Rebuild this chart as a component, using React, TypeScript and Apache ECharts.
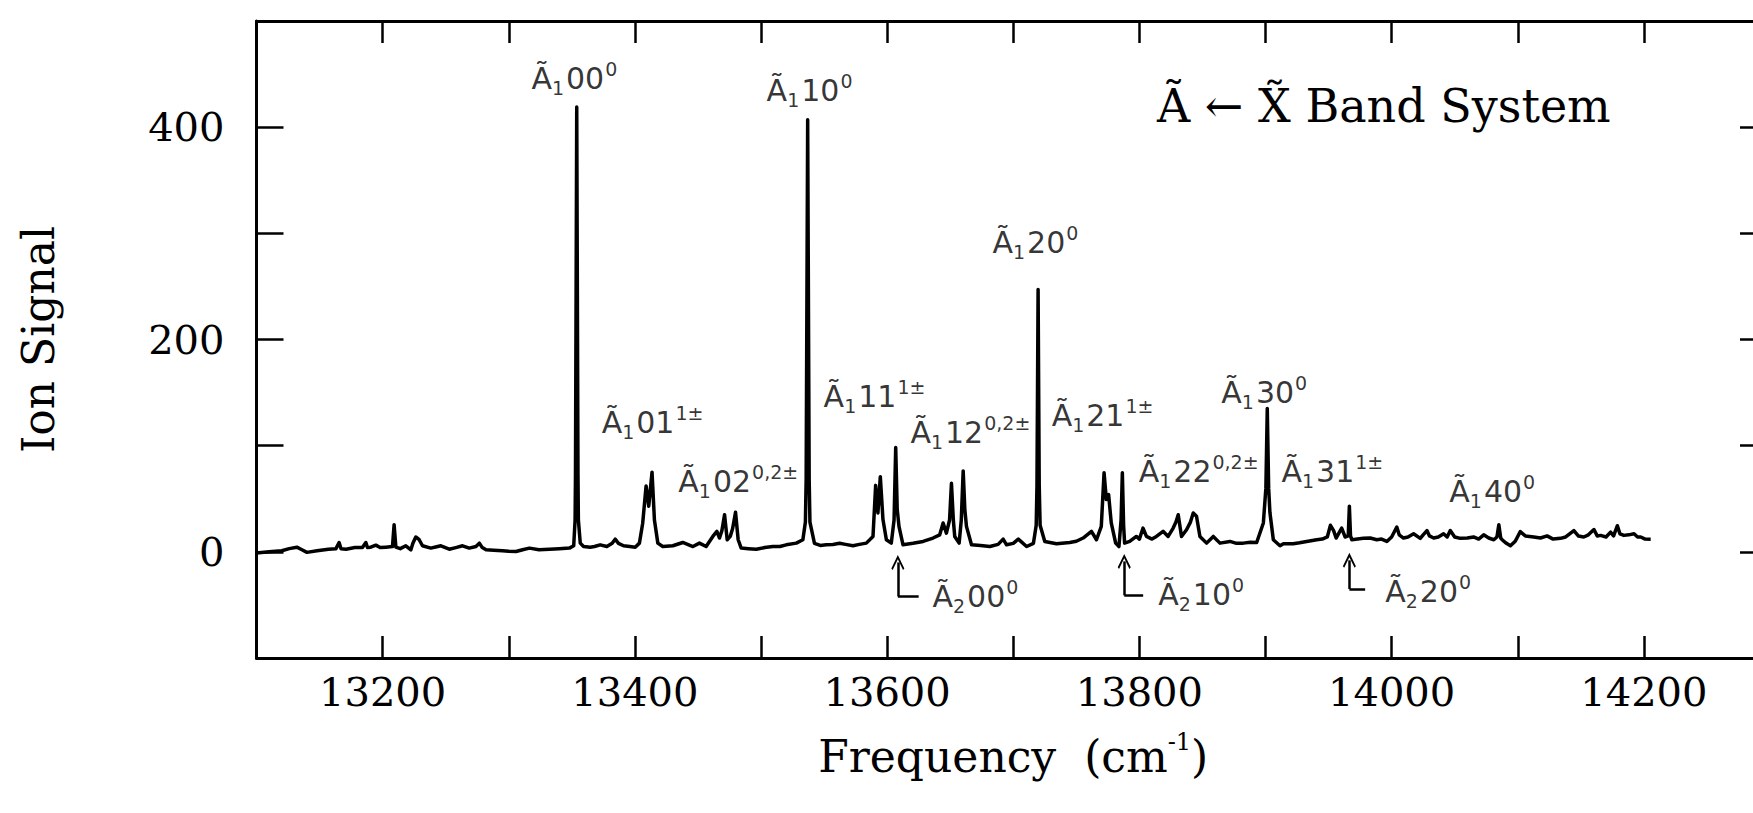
import React, { useEffect, useRef } from "react";
import * as echarts from "echarts";

// ---- spectrum (frequency cm^-1, ion signal) ----
const spectrumA: [number, number][] = [
  [13100, -1], [13110, 0], [13120, 1], [13126, 3], [13132, 4.4], [13136, 2], [13140, -0.5], [13148, 1],
  [13157, 2.5], [13163, 3], [13165.5, 8.8], [13167, 3], [13171, 2.5], [13178, 4], [13184, 4], [13186.7, 8.8],
  [13188, 4], [13190.6, 4.4], [13194.6, 6.3], [13198, 4], [13202.5, 4.4], [13207.8, 5], [13209.1, 25.6],
  [13210.5, 4.4], [13214, 3], [13218.4, 5.7], [13222.4, 1.9], [13224, 8], [13226.3, 14], [13229, 11.4],
  [13231.6, 5.7], [13238.2, 3.5], [13242, 4.5], [13246.2, 5.7], [13252.8, 2.5], [13258, 4], [13263.4, 5.7],
  [13268.7, 3.5], [13274, 5], [13276.7, 8.2], [13279, 4], [13282, 1.9], [13288, 1.5], [13295, 1], [13300, 0.5],
  [13305.8, 0.3], [13311, 2], [13316.4, 3.5], [13324, 2], [13332.3, 2.5], [13340, 3], [13348.1, 3.5], [13351.5, 5.7],
];
const spectrumB: [number, number][] = [
  [13352.6, 30], [13352.9, 71], [13353.9, 419], [13354.9, 71], [13355.2, 30], [13356.7, 8.2], [13359.3, 5],
  [13364.6, 4.4], [13368, 5], [13372.5, 6.6], [13377.8, 5], [13382, 8], [13384.4, 11.9], [13387, 8], [13391, 5.7],
  [13396, 5], [13400.3, 4.4], [13403.6, 8.2], [13406.2, 27], [13408.9, 62], [13411, 43], [13413.6, 75],
  [13415.5, 30], [13418.2, 8.2], [13422.1, 5], [13430.1, 5.7], [13438, 8.8], [13446, 5], [13451.2, 8.2],
  [13456.5, 5], [13461.8, 14.5], [13465, 19.3], [13467.1, 13], [13469, 20], [13471.1, 35], [13473.2, 11.4],
  [13475.6, 14.5], [13477.5, 22], [13479.8, 37.3], [13481.9, 11.4], [13484.3, 3.5], [13490, 3], [13496.2, 2.5],
  [13503, 4], [13509.4, 5], [13515, 5], [13520, 6.6], [13528, 8.2], [13533.2, 11.4], [13535.2, 28], [13535.8, 68],
  [13537, 407], [13538.2, 68], [13538.8, 28], [13542.4, 8],
];
const spectrumC: [number, number][] = [
  [13547, 6], [13551.7, 6.6], [13557, 7], [13562.3, 8], [13567, 7], [13572.9, 5.7], [13578, 7], [13583.5, 8.2],
  [13588.8, 14.5], [13590.9, 62.6], [13592.7, 36.6], [13594.6, 70.8], [13596.7, 30.4], [13599.4, 11.4],
  [13603.3, 8.2], [13605.5, 30], [13606.8, 98.3], [13608, 40], [13609.4, 24], [13612.6, 6.6], [13620.5, 8],
  [13628.5, 9.8], [13636.4, 13], [13641.7, 16], [13644.4, 27.2], [13647, 17.6], [13649.5, 30], [13651, 64.5],
  [13652.5, 30], [13653.6, 14.5], [13657.1, 8.2], [13658.8, 30], [13660.3, 76.2], [13661.6, 40], [13662.9, 24],
  [13666.9, 6.6], [13674, 6], [13681.5, 5], [13688, 7], [13692, 12], [13694.7, 6.6], [13700, 8], [13704, 12],
  [13710.6, 5], [13716, 8], [13718.2, 25], [13718.8, 62], [13719.7, 247], [13720.6, 62], [13721.3, 25], [13725, 9.8],
];
const spectrumD: [number, number][] = [
  [13734.3, 7.6], [13744.8, 8.8], [13750, 10], [13755.4, 13], [13762, 19.3], [13766, 11.4], [13769.8, 24],
  [13772, 74.5], [13773.8, 49.3], [13775.6, 54], [13777.7, 27.2], [13781.2, 8.2], [13783.8, 5], [13785.5, 30],
  [13786.5, 74.5], [13787.5, 25], [13788.3, 8.2], [13792.3, 9.8], [13797.6, 14.5], [13800, 12], [13802.9, 22.4],
  [13805.6, 14.5], [13810, 12], [13813.5, 14.5], [13818.8, 19.3], [13822.8, 14.5], [13826.8, 22.4], [13829, 28],
  [13830.8, 35], [13833.4, 14.5], [13837.4, 20.8], [13840.5, 28], [13842.7, 36.6], [13845.3, 33.5], [13848, 14.5],
  [13853.3, 8.2], [13858.6, 14.5], [13863.9, 8.2], [13871.8, 9.8], [13877, 8], [13882.4, 8.2], [13888, 9],
  [13893, 8.8], [13898.3, 27.2], [13900.3, 60], [13901.4, 135], [13902.5, 60], [13903.5, 37], [13906.2, 11.4],
  [13911.5, 5.7],
];
const spectrumE: [number, number][] = [
  [13914.2, 7.6], [13922, 7.6], [13927, 8.5], [13932.6, 9.8], [13940.6, 11.4], [13945, 12], [13949, 14],
  [13951.5, 25], [13954, 20], [13956, 13], [13960.4, 22.4], [13963.1, 14], [13965.6, 15], [13966.5, 43],
  [13967.4, 15], [13968.4, 11.4], [13973, 12], [13977.6, 12.7], [13983, 13], [13988.2, 11.4], [13992, 12],
  [13996.2, 9.8], [14000, 14], [14004.1, 23.4], [14006, 16], [14009.4, 13], [14013, 14], [14017.4, 17],
  [14022.7, 12.7], [14025, 16], [14028, 20], [14030, 15], [14033.3, 13], [14037, 14], [14041.2, 17], [14044, 14],
  [14046.5, 20], [14050, 14], [14054.5, 12.7], [14060, 13], [14065, 14], [14069, 12], [14073, 16], [14077, 13],
  [14081, 11.4], [14083.5, 14], [14085, 25.6], [14086.5, 13], [14087.6, 11.4], [14091, 8], [14094.2, 5.7],
  [14098, 10], [14102, 19], [14106, 15], [14112.7, 14], [14118, 13], [14123.3, 15], [14128, 12], [14133.9, 12.7],
  [14138, 14], [14144.5, 20], [14148, 15], [14152.4, 14], [14156, 16], [14160.4, 21], [14163, 15], [14165.7, 15.5],
  [14170, 14], [14173.6, 18.6], [14176, 15], [14179, 24.6], [14181, 17], [14184.2, 15.5], [14188, 16],
  [14192.2, 17], [14195, 14], [14197.5, 14], [14201, 12], [14205.4, 11.9],
];

// ---- band assignments ----
const labelFreq = [13352, 13538.5, 13717.6, 13899, 13414, 13482, 13590, 13666, 13770.8, 13847, 13953, 14079.8, 13670, 13849, 14029];
const labelSignal = [446, 435, 291, 150, 122, 66, 146, 112, 128, 76, 76, 57, -42, -40, -37];
const labelSub = ["1", "1", "1", "1", "1", "1", "1", "1", "1", "1", "1", "1", "2", "2", "2"];
const labelBody = ["00", "10", "20", "30", "01", "02", "11", "12", "21", "22", "31", "40", "00", "10", "20"];
const labelSup = ["0", "0", "0", "0", "1±", "0,2±", "1±", "0,2±", "1±", "0,2±", "1±", "0", "0", "0", "0"];

// ---- arrows for the Ã2 origins ----
const arrowFreq = [13608.5, 13788, 13966.5];
const arrowTip = [-10, -9, -8];
const arrowFoot = [-42, -41, -35];
const arrowFootEnd = [13625, 13803, 13979];

// ---- axes ----
const xMin = 13100, xMax = 14300, xStep = 100;
const yMin = -100, yMax = 500, yStep = 100;
const xLabelled = [13200, 13400, 13600, 13800, 14000, 14200];
const yLabelled = [0, 200, 400];
const titleText = "Ã ← X̃ Band System";

const SERIF = "DejaVu Serif";
const SANS = "DejaVu Sans";
const INK = "#000";

const CHEVRON = "path://M0,0 L10,14 L8,15.6 L0,4.6 L-8,15.6 L-10,14 Z";

function buildOption(): any {
  const spectrum = [...spectrumA, ...spectrumB, ...spectrumC, ...spectrumD, ...spectrumE];
  const labelData = labelFreq.map((f, i) => [f, labelSignal[i], i]);
  const markData: any[] = [];
  arrowFreq.forEach((f, i) => {
    markData.push([
      { coord: [f, arrowFoot[i]], symbol: "none" },
      { coord: [f, arrowTip[i]], symbol: CHEVRON, symbolSize: [13, 15] },
    ]);
    markData.push([
      { coord: [f, arrowFoot[i]], symbol: "none" },
      { coord: [arrowFootEnd[i], arrowFoot[i]], symbol: "none" },
    ]);
  });

  const axisLine = { show: true, onZero: false, lineStyle: { color: INK, width: 3 } };
  const tickStyle = { color: INK, width: 2.5 };

  return {
    animation: false,
    backgroundColor: "#fff",
    title: {
      text: titleText,
      left: 1152,
      top: 78,
      textStyle: { fontFamily: SERIF, fontSize: 46, fontWeight: "normal", color: INK },
    },
    grid: { left: 256.5, right: -17, top: 21, bottom: 155, containLabel: false, outerBoundsMode: "none" },
    xAxis: [
      {
        type: "value", position: "bottom", min: xMin, max: xMax, interval: xStep,
        axisLine, splitLine: { show: false },
        axisTick: { inside: true, length: 22, lineStyle: tickStyle },
        axisLabel: {
          formatter: (v: number) => (xLabelled.includes(v) ? String(v) : ""),
          fontFamily: SERIF, fontSize: 40, color: INK, margin: 14,
        },
        name: "Frequency  (cm{s|-1})",
        nameLocation: "middle", nameGap: 72,
        nameTextStyle: {
          fontFamily: SERIF, fontSize: 44, color: INK, lineHeight: 52,
          rich: { s: { fontFamily: SERIF, fontSize: 24, lineHeight: 24, verticalAlign: "top", color: INK } },
        },
      },
      {
        type: "value", position: "top", min: xMin, max: xMax, interval: xStep,
        axisLine, splitLine: { show: false },
        axisTick: { inside: true, length: 22, lineStyle: tickStyle },
        axisLabel: { show: false },
      },
    ],
    yAxis: [
      {
        type: "value", position: "left", min: yMin, max: yMax, interval: yStep,
        axisLine, splitLine: { show: false },
        axisTick: { inside: true, length: 27, lineStyle: tickStyle },
        axisLabel: {
          formatter: (v: number) => (yLabelled.includes(v) ? String(v) : ""),
          fontFamily: SERIF, fontSize: 40, color: INK, margin: 32,
        },
        name: "Ion Signal", nameLocation: "middle", nameRotate: 90, nameGap: 196,
        nameTextStyle: { fontFamily: SERIF, fontSize: 44, color: INK },
      },
      {
        type: "value", position: "right", min: yMin, max: yMax, interval: yStep,
        axisLine, splitLine: { show: false },
        axisTick: { inside: true, length: 30, lineStyle: tickStyle },
        axisLabel: { show: false },
      },
    ],
    series: [
      {
        type: "line", name: "Ion signal", data: spectrum, xAxisIndex: 0, yAxisIndex: 0,
        showSymbol: false, symbol: "none", smooth: false,
        lineStyle: { color: INK, width: 3.5, join: "round" },
        silent: true,
        markLine: {
          silent: true, animation: false,
          symbol: ["none", "none"],
          lineStyle: { color: INK, width: 2.5, type: "solid" },
          itemStyle: { color: INK },
          label: { show: false },
          emphasis: { disabled: true },
          data: markData,
        },
      },
      {
        type: "scatter", name: "assignments", data: labelData, xAxisIndex: 0, yAxisIndex: 0,
        symbolSize: 1, itemStyle: { color: "transparent" }, silent: true,
        label: {
          show: true, position: "inside",
          formatter: (p: any) => {
            const i = p.data[2];
            return `{a|Ã}{s|${labelSub[i]}}{a|${labelBody[i]}}{p|${labelSup[i]}}`;
          },
          rich: {
            a: { fontFamily: SANS, fontSize: 30, lineHeight: 38, color: INK },
            s: { fontFamily: SANS, fontSize: 19, lineHeight: 19, color: INK, verticalAlign: "bottom", padding: [0, 2, 0, 0] },
            p: { fontFamily: SANS, fontSize: 19, lineHeight: 19, color: INK, verticalAlign: "top", padding: [0, 0, 0, 1] },
          },
        },
      },
    ],
  };
}

export default function App() {
  const ref = useRef<HTMLDivElement>(null);
  useEffect(() => {
    if (!ref.current) return;
    const chart = echarts.init(ref.current, null, { renderer: "svg" });
    chart.setOption(buildOption());
    return () => chart.dispose();
  }, []);
  return (
    <div
      ref={ref}
      style={{ position: "fixed", left: 0, top: 0, width: 1753, height: 813, background: "#fff" }}
    />
  );
}
